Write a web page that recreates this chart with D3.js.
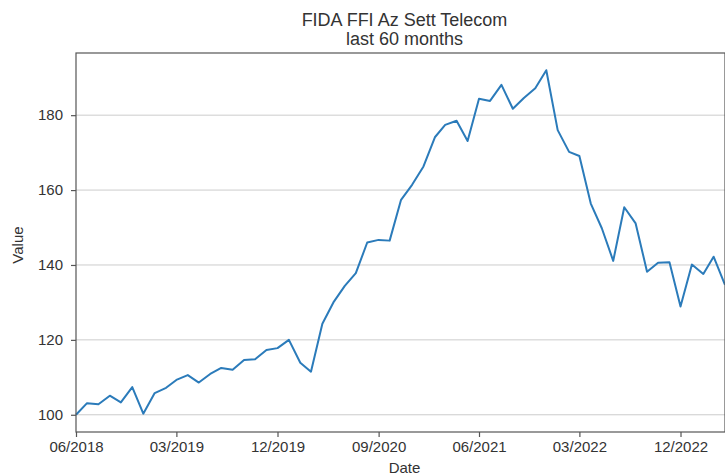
<!DOCTYPE html>
<html lang="en">
  <head>
    <meta charset="UTF-8" />
    <title>FIDA FFI Az Sett Telecom</title>
    <script src="https://d3js.org/d3.v7.min.js"></script>
    <style>
      body { margin: 0; overflow: hidden; background: #fff; }
      text { font-family: "Liberation Sans", Arial, sans-serif; fill: #333; }
    </style>
  </head>
  <body>
    <div id="chart"></div>
    <script>
      // monthly values, 06/2018 .. 04/2023
      const firstMonth = '2018-06';
      const values = [
        100.0, 103.1, 102.8, 105.1, 103.3, 107.4, 100.3, 105.8, 107.2, 109.3,
        110.6, 108.6, 110.9, 112.5, 112.0, 114.6, 114.8, 117.3, 117.8, 120.0,
        113.9, 111.5, 124.3, 130.0, 134.4, 137.8, 146.0, 146.7, 146.5, 157.4,
        161.4, 166.3, 174.1, 177.4, 178.5, 173.1, 184.4, 183.8, 188.1, 181.7,
        184.6, 187.2, 192.0, 176.0, 170.2, 169.1, 156.4, 149.8, 141.1, 155.4,
        151.1, 138.2, 140.6, 140.7, 128.9, 140.1, 137.6, 142.2, 134.7
      ];
      const xTickLabels = ['06/2018', '03/2019', '12/2019', '09/2020', '06/2021', '03/2022', '12/2022'];
      const yTicks = [100, 120, 140, 160, 180];

      const width = 800;
      const height = 476;
      const margin = { top: 53, right: 75, bottom: 44, left: 76 };

      const parseMonth = d3.timeParse('%Y-%m');
      const parseLabel = d3.timeParse('%m/%Y');
      const start = parseMonth(firstMonth);
      const data = values.map((v, i) => ({ date: d3.timeMonth.offset(start, i), value: v }));

      const svg = d3.select('#chart').append('svg')
        .attr('width', width)
        .attr('height', height);

      const x = d3.scaleTime()
        .domain(d3.extent(data, (d) => d.date))
        .range([margin.left, width - margin.right]);

      const yMin = d3.min(values);
      const yMax = d3.max(values);
      const pad = (yMax - yMin) * 0.05;
      const y = d3.scaleLinear()
        .domain([yMin - pad, yMax + pad])
        .range([height - margin.bottom, margin.top]);

      // grid
      svg.append('g')
        .selectAll('line')
        .data(yTicks)
        .enter()
        .append('line')
        .attr('x1', margin.left)
        .attr('x2', width - margin.right)
        .attr('y1', (d) => y(d))
        .attr('y2', (d) => y(d))
        .attr('stroke', '#cccccc')
        .attr('stroke-width', 1);

      // line
      svg.append('path')
        .datum(data)
        .attr('fill', 'none')
        .attr('stroke', '#2b7bba')
        .attr('stroke-width', 2)
        .attr('stroke-linejoin', 'round')
        .attr('d', d3.line().x((d) => x(d.date)).y((d) => y(d.value)));

      // frame
      svg.append('rect')
        .attr('x', margin.left)
        .attr('y', margin.top)
        .attr('width', width - margin.right - margin.left)
        .attr('height', height - margin.bottom - margin.top)
        .attr('fill', 'none')
        .attr('stroke', '#555')
        .attr('stroke-width', 1.2);

      const xAxis = svg.append('g')
        .attr('transform', `translate(0,${height - margin.bottom})`)
        .call(
          d3.axisBottom(x)
            .tickValues(xTickLabels.map(parseLabel))
            .tickFormat(d3.timeFormat('%m/%Y'))
            .tickSize(5)
            .tickPadding(4)
        );

      const yAxis = svg.append('g')
        .attr('transform', `translate(${margin.left},0)`)
        .call(d3.axisLeft(y).tickValues(yTicks).tickSize(5).tickPadding(8));

      [xAxis, yAxis].forEach((g) => {
        g.select('.domain').remove();
        g.selectAll('.tick line').attr('stroke', '#555').attr('stroke-width', 1.2);
        g.selectAll('.tick text')
          .style('font-size', '15px')
          .style('font-family', '"Liberation Sans", Arial, sans-serif')
          .attr('fill', '#333');
      });

      // titles
      const cx = (margin.left + 725) / 2 + 4;
      svg.append('text')
        .attr('x', cx)
        .attr('y', 26)
        .attr('text-anchor', 'middle')
        .style('font-size', '18px')
        .text('FIDA FFI Az Sett Telecom');
      svg.append('text')
        .attr('x', cx)
        .attr('y', 45)
        .attr('text-anchor', 'middle')
        .style('font-size', '18px')
        .text('last 60 months');

      svg.append('text')
        .attr('x', cx)
        .attr('y', 473)
        .attr('text-anchor', 'middle')
        .style('font-size', '15px')
        .text('Date');

      svg.append('text')
        .attr('transform', 'translate(23,245) rotate(-90)')
        .attr('text-anchor', 'middle')
        .style('font-size', '15px')
        .text('Value');
    </script>
  </body>
</html>
